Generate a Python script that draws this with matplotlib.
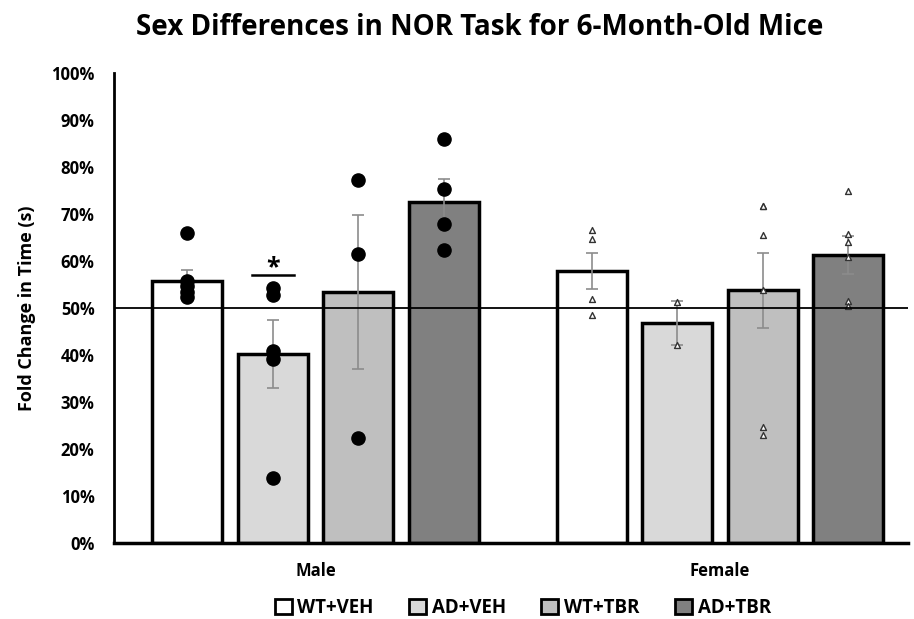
import matplotlib
matplotlib.use("Agg")
import matplotlib.pyplot as plt
from matplotlib.patches import Patch
import numpy as np

plt.rcParams['font.family'] = ['Open Sans', 'DejaVu Sans']

sexes = ["Male", "Female"]
groups = ["WT+VEH", "AD+VEH", "WT+TBR", "AD+TBR"]
colors = ["#ffffff", "#d9d9d9", "#bfbfbf", "#808080"]

# mean values (%) per group: [Male, Female]
means = {
    "WT+VEH": [55.7, 57.9],
    "AD+VEH": [40.2, 46.8],
    "WT+TBR": [53.4, 53.8],
    "AD+TBR": [72.5, 61.3],
}
errs = {
    "WT+VEH": [2.4, 3.9],
    "AD+VEH": [7.3, 4.6],
    "WT+TBR": [16.4, 8.0],
    "AD+TBR": [5.0, 4.0],
}
male_points = {
    "WT+VEH": [66.0, 55.8, 54.6, 53.4, 52.3],
    "AD+VEH": [54.3, 52.8, 40.9, 39.1, 13.9],
    "WT+TBR": [77.2, 61.4, 22.4],
    "AD+TBR": [86.0, 75.3, 67.9, 62.3],
}
female_points = {
    "WT+VEH": [66.6, 64.6, 51.9, 48.5],
    "AD+VEH": [51.2, 42.1],
    "WT+TBR": [71.7, 71.7, 65.6, 53.8, 24.6, 22.9],
    "AD+TBR": [74.9, 65.7, 64.0, 60.9, 51.5, 50.5],
}
yticks = [0, 10, 20, 30, 40, 50, 60, 70, 80, 90, 100]

fig = plt.figure(figsize=(9.14, 6.19), dpi=100)
ax = fig.add_axes([114/914, 1-543/619, (908-114)/914, (543-73)/619])

step = 0.2114
width = 0.173
x0 = np.arange(len(sexes))
for i, g in enumerate(groups):
    xs = x0 + (i - 1.5) * step
    ax.bar(xs, means[g], width=width, color=colors[i], edgecolor="black",
           linewidth=2.5, zorder=2, label=g)
    ax.errorbar(xs, means[g], yerr=errs[g], fmt="none", ecolor="#8c8c8c",
                elinewidth=1.2, capsize=4, capthick=1.2, zorder=3)
    mp = male_points[g]
    ax.scatter([xs[0]] * len(mp), mp, s=90, color="black", zorder=4)
    fp = female_points[g]
    ax.scatter([xs[1]] * len(fp), fp, s=18, marker="^", facecolor="white",
               edgecolor="#333333", linewidth=1.0, zorder=4)

ax.axhline(50, color="black", linewidth=1.3, zorder=5)

# significance marker over male AD+VEH
xa = x0[0] + (1 - 1.5) * step
ax.plot([xa - 0.052, xa + 0.052], [57.1, 57.1], color="black", linewidth=1.8, zorder=5)
ax.text(xa, 56.0, "*", ha="center", va="bottom", fontsize=18, fontweight="bold")

ax.set_ylim(0, 100)
ax.set_xlim(-0.498, 1.465)
ax.set_yticks(yticks)
ax.set_yticklabels([f"{v}%" for v in yticks], fontsize=12, fontweight="bold")
ax.set_xticks(x0)
ax.set_xticklabels(sexes, fontsize=12, fontweight="bold")
ax.tick_params(axis="y", length=0, pad=14)
ax.tick_params(axis="x", length=0, pad=14)
for s in ["top", "right"]:
    ax.spines[s].set_visible(False)
ax.spines["left"].set_linewidth(2)
ax.spines["bottom"].set_linewidth(2.5)
ax.set_ylabel("Fold Change in Time (s)", fontsize=13, fontweight="bold", labelpad=11)

fig.text(0.525, 0.955, "Sex Differences in NOR Task for 6-Month-Old Mice",
         ha="center", va="center", fontsize=20, fontweight="bold")

handles = [Patch(facecolor=c, edgecolor="black", linewidth=2, label=g)
           for c, g in zip(colors, groups)]
fig.legend(handles=handles, loc="center", bbox_to_anchor=(0.572, 0.018),
           ncol=4, frameon=False, prop={"weight": "bold", "size": 13.5},
           handlelength=0.9, handleheight=0.9, handletextpad=0.3, columnspacing=1.9)

fig.savefig("out.png", dpi=100)
